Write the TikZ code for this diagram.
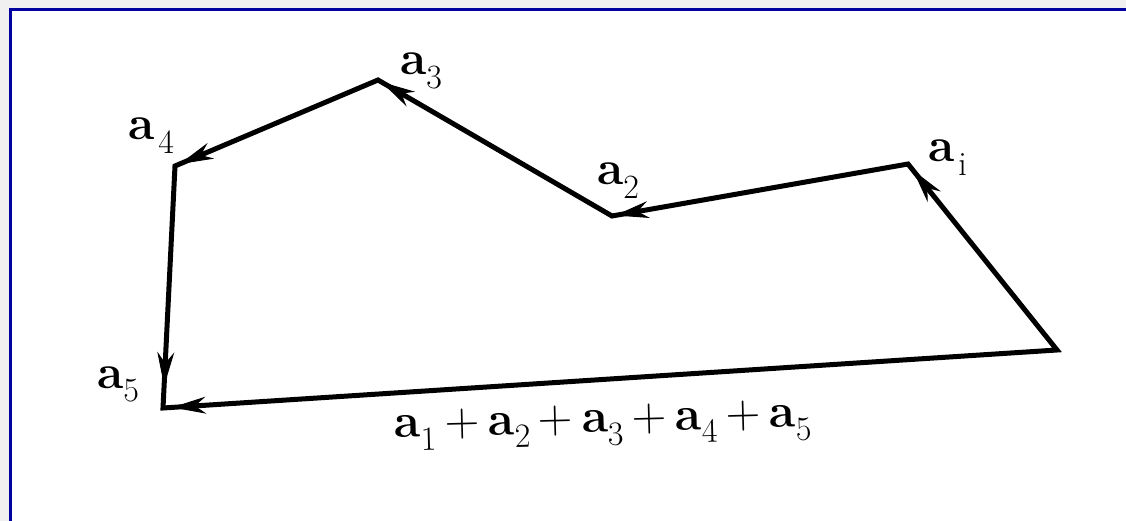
\documentclass[tikz,border=0pt]{standalone}
\usetikzlibrary{arrows.meta,decorations.markings}
\definecolor{framecol}{HTML}{0000A0}
\definecolor{outside}{HTML}{F0F0F0}
\newcommand{\myvec}[2][0pt]{\textbf{a}\hspace{#1}\raisebox{-0.28em}{\fontsize{34}{36}\selectfont #2}}
\newcommand{\myplus}{\hspace{0.18em}+\hspace{0.18em}}
\tikzset{
  poly/.style={draw=black, line width=5pt, line join=miter},
  tipon/.style={postaction={decorate}, decoration={markings,
      mark=at position -#1 with {\arrow[line width=1pt]{Stealth[length=34pt,width=17pt]}}}},
  lab/.style={inner sep=0pt, anchor=base west, font=\fontsize{48}{50}\selectfont},
}
\begin{document}
\begin{tikzpicture}[x=1pt,y=-1pt]
\useasboundingbox (0,0) rectangle (1126,521);
\fill[outside] (0,0) rectangle (1126,521);
\fill[white] (10,10) rectangle (1140,535);
\draw[framecol, line width=3pt] (10,535) -- (10,10) -- (1140,10);
% vertices
\coordinate (p0) at (1057,350);
\coordinate (p1) at (908,164);
\coordinate (p2) at (612,216);
\coordinate (p3) at (378,80);
\coordinate (p4) at (175,166);
\coordinate (p5) at (163,408);
% polygon
\draw[poly] (p0) -- (p1) -- (p2) -- (p3) -- (p4) -- (p5) -- cycle;
% arrowheads
\path[tipon=8pt] (p0) -- (p1);
\path[tipon=3pt] (p1) -- (p2);
\path[tipon=4pt] (p2) -- (p3);
\path[tipon=5pt] (p3) -- (p4);
\path[tipon=22pt] (p4) -- (p5);
\path[tipon=9pt] (p0) -- (p5);
% labels
\node[lab] (l1) at (928,162) {\myvec[4pt]{i}};
\node[lab] (l2) at (597,185) {\myvec{2}};
\node[lab] (l3) at (400,75) {\myvec{3}};
\node[lab] (l4) at (128,140) {\myvec[4pt]{4}};
\node[lab] (l5) at (97,388) {\myvec{5}};
\node[inner sep=0pt, anchor=base, rotate=1.5, font=\fontsize{48}{50}\selectfont] (sum) at (603,432)
  {\myvec{1}\myplus\myvec{2}\myplus\myvec{3}\myplus\myvec{4}\myplus\myvec{5}};
\end{tikzpicture}
\end{document}
